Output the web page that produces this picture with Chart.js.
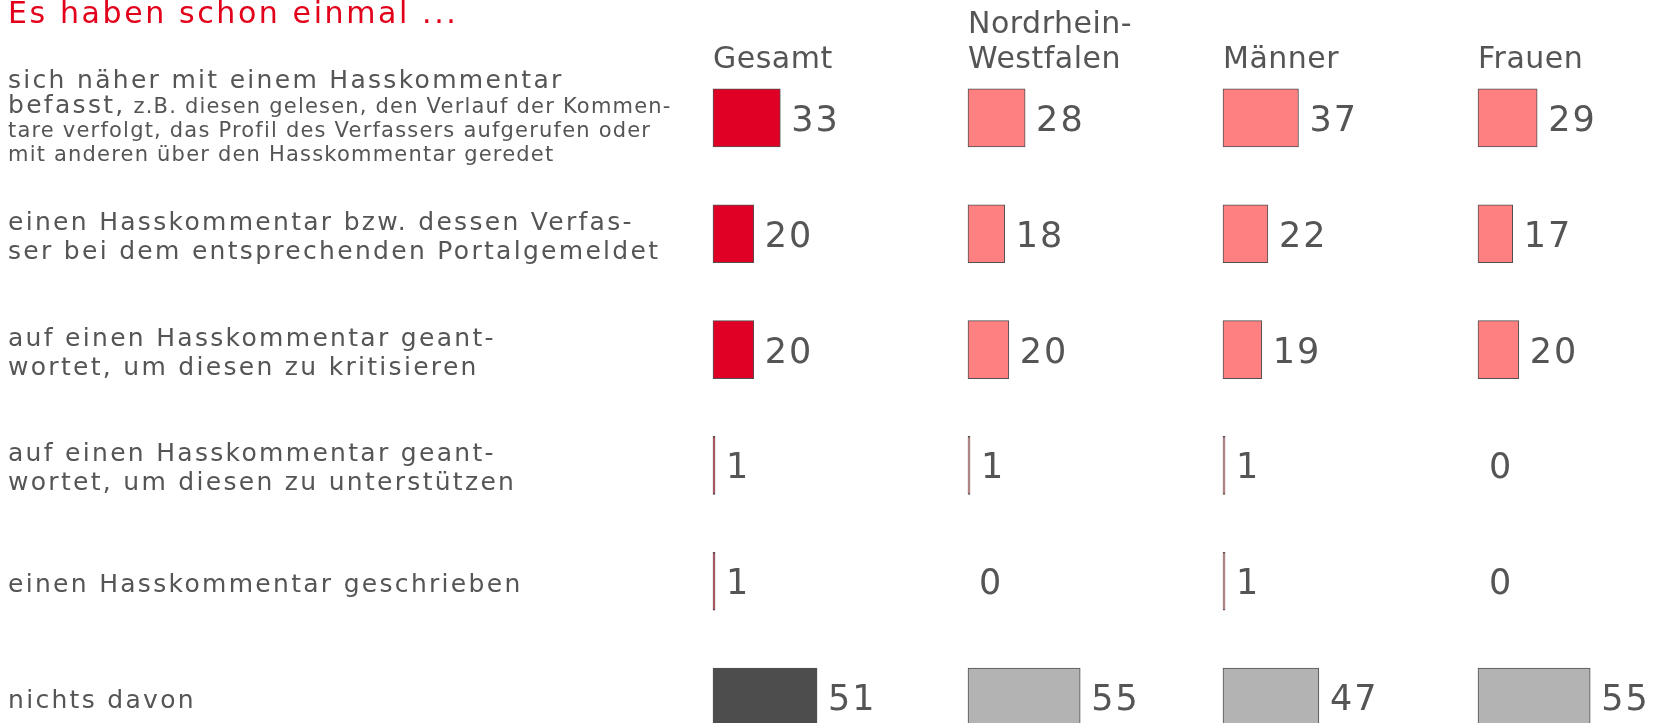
<!DOCTYPE html>
<html>
<head>
<meta charset="utf-8">
<script src="https://cdn.jsdelivr.net/npm/chart.js@4"></script>
<style>
  html, body { margin: 0; padding: 0; background: #fff; overflow: hidden; }
  canvas { display: block; }
</style>
</head>
<body>
<canvas id="hassChart" width="1760" height="760"></canvas>
<script>
// data
const title = 'Es haben schon einmal ...';

// each line: [large text, small text]
const categoryLines = [
  [['sich näher mit einem Hasskommentar', ''],
   ['befasst,', ' z.B. diesen gelesen, den Verlauf der Kommen-'],
   ['', 'tare verfolgt, das Profil des Verfassers aufgerufen oder'],
   ['', 'mit anderen über den Hasskommentar geredet']],
  [['einen Hasskommentar bzw. dessen Verfas-', ''], ['ser bei dem entsprechenden Portalgemeldet', '']],
  [['auf einen Hasskommentar geant-', ''], ['wortet, um diesen zu kritisieren', '']],
  [['auf einen Hasskommentar geant-', ''], ['wortet, um diesen zu unterstützen', '']],
  [['einen Hasskommentar geschrieben', '']],
  [['nichts davon', '']]
];
const categories = categoryLines.map(l => l.map(p => p.join('')).join(' '));

const columns = [['Gesamt'], ['Nordrhein-', 'Westfalen'], ['Männer'], ['Frauen']];
const gesamt = [33, 20, 20, 1, 1, 51];
const nrw    = [28, 18, 20, 1, 0, 55];
const maenner = [37, 22, 19, 1, 1, 47];
const frauen = [29, 17, 20, 0, 0, 55];
const series = [gesamt, nrw, maenner, frauen];

const RED = '#e10025';
const SALMON = '#ff8080';
const DARK = '#4d4d4d';
const LIGHT = '#b3b3b3';
const TEXT = '#555555';
const FONT = '"DejaVu Sans", Verdana, sans-serif';

function barColor(main, last) {
  return ctx => ctx.dataIndex === categories.length - 1 ? last : main;
}

// draws title, column heads, value labels and row labels
const textPlugin = {
  id: 'texts',
  afterDatasetsDraw(chart) {
    const c = chart.ctx;
    const yScale = chart.scales.y;
    c.save();
    c.textAlign = 'left';
    c.textBaseline = 'alphabetic';

    c.fillStyle = '#e2001a';
    c.font = '30px ' + FONT;
    c.letterSpacing = '2.6px';
    c.fillText(title, 8, 23);

    c.fillStyle = TEXT;
    c.font = '30px ' + FONT;
    c.letterSpacing = '0.5px';
    columns.forEach((col, i) => {
      const x = chart.scales['x' + i].left;
      col.slice().reverse().forEach((line, k) => {
        c.fillText(line, x, 68 - k * 35);
      });
    });

    c.font = '35px ' + FONT;
    c.letterSpacing = '2px';
    chart.data.datasets.forEach((ds, i) => {
      chart.getDatasetMeta(i).data.forEach((bar, j) => {
        c.fillText(String(ds.data[j]), bar.x + 11, bar.y + 13);
      });
    });

    categoryLines.forEach((lines, j) => {
      const cy = yScale.getPixelForValue(j);
      const compact = lines.some(l => l[1] !== '');
      let by;
      if (compact) {
        by = cy - 30;
      } else {
        by = cy + 10.5 - (lines.length - 1) * 14.5;
      }
      lines.forEach((l, k) => {
        if (k > 0) by += compact ? (l[0] ? 25.5 : 24) : 29;
        let x = 8;
        if (l[0]) {
          c.font = '25px ' + FONT;
          c.letterSpacing = '2.3px';
          c.fillText(l[0], x, by);
          x += c.measureText(l[0]).width;
        }
        if (l[1]) {
          c.font = '21px ' + FONT;
          c.letterSpacing = '1.2px';
          c.fillText(l[1], x, by);
        }
      });
    });
    c.restore();
  }
};

const xScales = {};
series.forEach((s, i) => {
  xScales['x' + i] = {
    type: 'linear',
    position: 'bottom',
    stack: 'cols',
    stackWeight: 1,
    min: 0,
    max: 125,
    display: false
  };
});

const mainColors = [RED, SALMON, SALMON, SALMON];
const lastColors = [DARK, LIGHT, LIGHT, LIGHT];

const chart = new Chart(document.getElementById('hassChart').getContext('2d'), {
  type: 'bar',
  data: {
    labels: categories,
    datasets: series.map((s, i) => ({
      label: columns[i].join(''),
      data: s,
      xAxisID: 'x' + i,
      backgroundColor: barColor(mainColors[i], lastColors[i]),
      borderColor: '#505050',
      borderWidth: 1,
      borderSkipped: false,
      barThickness: 58,
      grouped: false,
      clip: false
    }))
  },
  options: {
    indexAxis: 'y',
    responsive: false,
    animation: false,
    layout: { padding: { left: 713, top: 60, right: 27, bottom: 5 } },
    plugins: { legend: { display: false }, tooltip: { enabled: false } },
    scales: Object.assign({
      y: { type: 'category', display: false }
    }, xScales)
  },
  plugins: [textPlugin]
});
</script>
</body>
</html>
